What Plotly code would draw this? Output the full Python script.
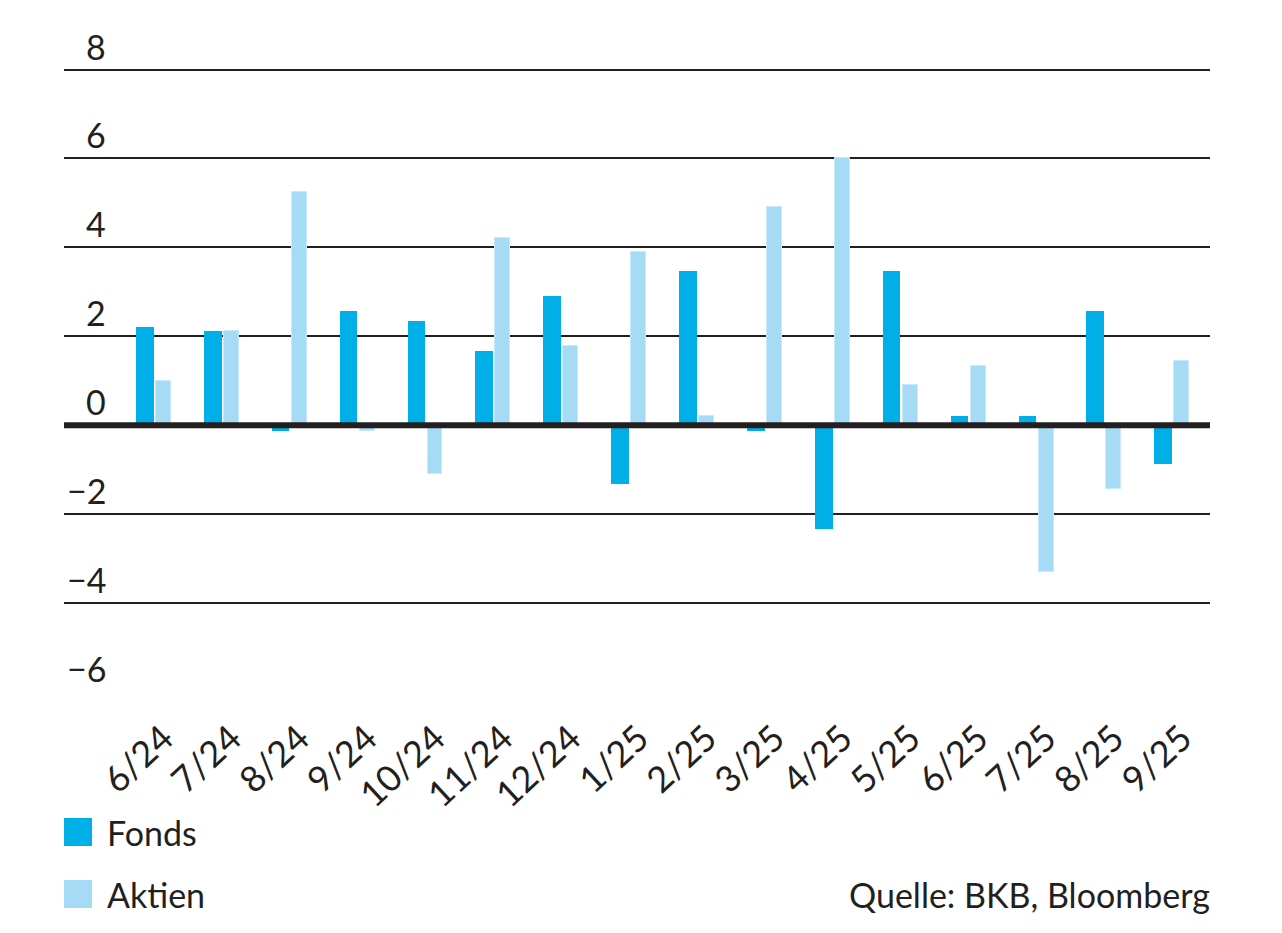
import plotly.graph_objects as go

categories = ["6/24", "7/24", "8/24", "9/24", "10/24", "11/24", "12/24", "1/25",
              "2/25", "3/25", "4/25", "5/25", "6/25", "7/25", "8/25", "9/25"]
fonds = [2.22, 2.11, -0.12, 2.56, 2.34, 1.66, 2.90, -1.33,
         3.46, -0.12, -2.33, 3.46, 0.22, 0.22, 2.56, -0.87]
aktien = [0.99, 2.11, 5.24, -0.12, -1.10, 4.22, 1.78, 3.89,
          0.22, 4.90, 6.02, 0.90, 1.33, -3.31, -1.43, 1.44]
y_ticks = [-6, -4, -2, 0, 2, 4, 6, 8]
y_tick_labels = ["\u22126", "\u22124", "\u22122", "0", "2", "4", "6", "8"]
series_names = ["Fonds", "Aktien"]
source_text = "Quelle: BKB, Bloomberg"

C_FONDS = "#00aee8"
C_AKTIEN = "#a6dbf5"
C_TEXT = "#231f20"
FONT = "Lato"
FS = 34

# page offset (body margin) compensation
OFF = 8
W, H = 1282, 933
ML, MR, MT, MB = 64 - OFF, W - 1210 + OFF, 58, H - 685
W_plot = W - ML - MR
H_plot = H - MT - MB


def px_x(px):
    return (px - OFF - ML) / W_plot


def px_y(py):
    return (H - MB - (py - OFF)) / H_plot


fig = go.Figure()
fig.add_trace(go.Bar(x=categories, y=fonds, name=series_names[0],
                     marker=dict(color=C_FONDS, line=dict(width=0)),
                     width=0.26, offset=-0.26, showlegend=False))
fig.add_trace(go.Bar(x=categories, y=aktien, name=series_names[1],
                     marker=dict(color=C_AKTIEN, line=dict(width=1, color="#c8e9f9")),
                     width=0.22, offset=0.035, showlegend=False))

for v, lab in zip(y_ticks, y_tick_labels):
    fig.add_annotation(xref="paper", yref="y", x=0, y=v, text=lab,
                       xanchor="right", yanchor="bottom", xshift=44, yshift=1,
                       showarrow=False,
                       font=dict(family=FONT, size=FS, color=C_TEXT))

# zero line on top of bars
fig.add_shape(type="line", xref="paper", yref="y", x0=0, x1=1, y0=0, y1=0,
              line=dict(color=C_TEXT, width=6), layer="above")

fig.update_layout(
    width=W, height=H,
    margin=dict(l=ML, r=MR, t=MT, b=MB, autoexpand=False),
    paper_bgcolor="white", plot_bgcolor="white",
    bargap=0, barmode="overlay",
    font=dict(family=FONT, color=C_TEXT),
    xaxis=dict(type="category", range=[-1.32, 15.56], showgrid=False,
               showline=False, zeroline=False, ticks="",
               tickangle=-43, tickfont=dict(family=FONT, size=36, color=C_TEXT),
               ticklabelstandoff=16, ticklabelshift=10),
    yaxis=dict(range=[-6.02, 8.08], tickvals=y_ticks, showticklabels=False,
               showgrid=True, gridcolor=C_TEXT, gridwidth=1.5,
               zeroline=False, showline=False, ticks=""),
)

legend_colors = [C_FONDS, C_AKTIEN]
legend_y = [832, 894]
for name, col, yc in zip(series_names, legend_colors, legend_y):
    fig.add_shape(type="rect", xref="paper", yref="paper",
                  x0=px_x(64), x1=px_x(92), y0=px_y(yc + 14), y1=px_y(yc - 14),
                  fillcolor=col, line=dict(width=0))
    fig.add_annotation(xref="paper", yref="paper", x=px_x(105), y=px_y(yc),
                       text=name, xanchor="left", yanchor="middle", showarrow=False,
                       font=dict(family=FONT, size=FS, color=C_TEXT))

fig.add_annotation(xref="paper", yref="paper", x=px_x(1212), y=px_y(894),
                   text=source_text, xanchor="right", yanchor="middle", showarrow=False,
                   font=dict(family=FONT, size=FS, color=C_TEXT))

fig.write_html("out.html")
